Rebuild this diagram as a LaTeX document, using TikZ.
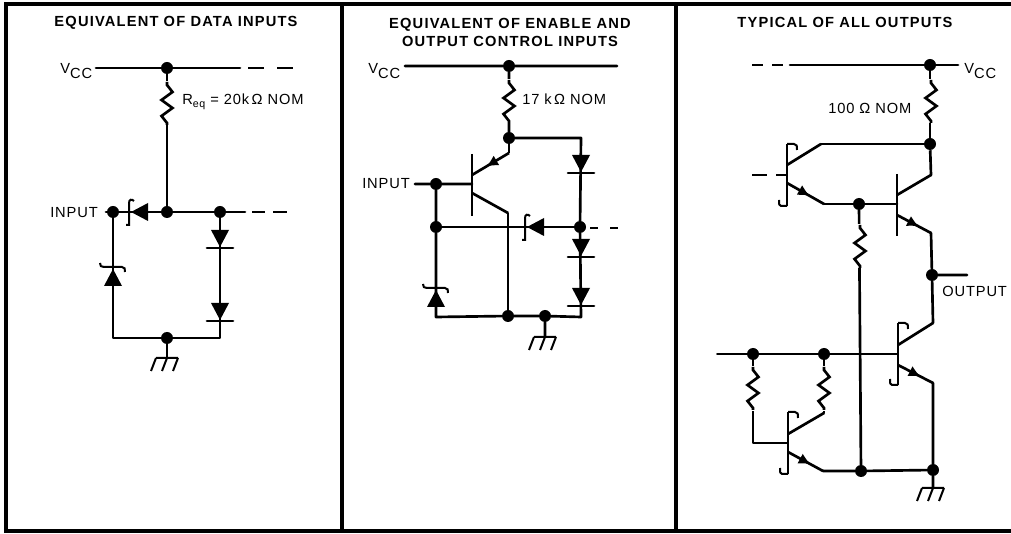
\documentclass[tikz,border=0pt]{standalone}
\usepackage{fontspec}
\setmainfont{Liberation Sans}
\newfontfamily\titlefont[LetterSpace=8,BoldFont={Liberation Sans Bold}]{Liberation Sans}
\newfontfamily\labfont[LetterSpace=6]{Liberation Sans}
\usetikzlibrary{arrows.meta,decorations.markings}
\newcommand{\VCC}{V\raisebox{-3.5pt}{CC}}
\tikzset{
  wire/.style={line width=2pt,line cap=round,line join=round},
  fine wire/.style={line width=1.4pt,line cap=round,line join=round},
  frameline/.style={line width=3pt,line cap=rect},
  dot/.style={circle,fill=black,inner sep=0pt,minimum size=9pt},
  title/.style={font=\titlefont\bfseries\fontsize{11pt}{13.5pt}\selectfont,align=center,inner sep=0pt},
  lab/.style={font=\labfont\fontsize{11pt}{12pt}\selectfont,inner sep=0pt},
  dashwire/.style={line width=1.8pt,line cap=butt},
  emit/.style={postaction={decorate},decoration={markings,mark=at position #1 with {\arrow{Latex[length=9pt,width=8.5pt]}}}},
  diodedown/.pic={\fill (-9,0)--(9,0)--(0,17)--cycle;\draw[wire] (-13,18)--(13,18);},
  shottkyup/.pic={\fill (-9,17)--(9,17)--(0,0)--cycle;
     \draw[line width=1.5pt] (-13,-6) .. controls (-13,-3) and (-12,-2) .. (-9,-2) -- (9,-2) .. controls (12,-2) and (12,0) .. (12,3);},
  shottkyleft/.pic={\fill (19,-9)--(19,9)--(2,0)--cycle;
     \draw[line width=1.5pt] (5,-11) .. controls (3,-13) and (0,-13) .. (0,-9) -- (0,11) -- (0,13) -- (-3,13);},
  resistorv/.pic={\draw[wire,line join=miter,line cap=butt] (0,0)--(0,3)--(5.5,10)--(-5.5,18)--(5.5,26)--(-5.5,34)--(0,41)--(0,43);},
  groundsym/.pic={\draw[line width=1.5pt] (-11,0)--(11,0) (-11,0)--(-16,13) (0,0)--(-5,13) (11,0)--(6,13);},
  hookbar/.pic={\draw[wire,line cap=butt] (0,0)--(0,62);
     \draw[line width=1.5pt] (0,0)--(7,0) .. controls (10,0) and (10,2) .. (10,6) (0,62)--(-6,62) .. controls (-8,62) and (-8,60) .. (-8,56);},
  plainbar/.pic={\draw[wire,line cap=butt] (0,0)--(0,62);}
}
\begin{document}
\begin{tikzpicture}[x=0.75pt,y=-0.75pt]
\useasboundingbox (0,0) rectangle (1011,534);
% frame
\coordinate (ftl) at (6,4); \coordinate (ftr) at (1011,4);
\coordinate (fbl) at (6,531); \coordinate (fbr) at (1011,531);
\coordinate (d1t) at (342,4); \coordinate (d1b) at (342,531);
\coordinate (d2t) at (676,4); \coordinate (d2b) at (676,531);
\draw[frameline] (fbl)--(ftl)--(ftr) (fbl)--(fbr) (d1t)--(d1b) (d2t)--(d2b);

% ---- panel 1
\node[title] (t1) at (176,23) {EQUIVALENT OF DATA INPUTS};
\node[lab,anchor=west] (vcc1) at (60,71) {\VCC};
\node[dot] (a1) at (167,68) {};
\coordinate (a1r) at (240,68); \coordinate (a1d) at (248,68); \coordinate (a1e) at (295,68);
\coordinate (a1l) at (96,68);
\draw[wire] (a1l)--(a1)--(a1r);
\draw[dashwire,dash pattern=on 12pt off 10pt] (a1d)--(a1e);
\node[lab,anchor=west] (req) at (182,102) {R\raisebox{-2.5pt}{\fontsize{8pt}{8pt}\selectfont eq} = 20k$\,$Ω NOM};
\node[dot] (b1) at (167,212) {};
\node[dot] (c1) at (113,212) {};
\node[dot] (e1) at (220,212) {};
\node[lab,anchor=west] (inp1) at (50,213) {INPUT};
\coordinate (c1l) at (106,212);
\coordinate (e1r) at (245,212); \coordinate (e1d) at (252,212); \coordinate (e1e) at (292,212);
\node[dot] (g1) at (167,338) {};
\coordinate (bl1) at (113,338); \coordinate (br1) at (220,338);
\coordinate (gg1) at (167,358);
\draw[wire] (a1)--(b1) (c1l)--(c1)--(b1)--(e1)--(e1r) (c1)--(bl1)--(g1)--(br1)--(e1) (g1)--(gg1);
\draw[dashwire,dash pattern=on 10pt off 6pt] (e1d)--(e1e);
\fill[white] (160,81) rectangle (174,125);
\pic at (167,82) {resistorv};
\pic at (220,230) {diodedown};
\pic at (220,303) {diodedown};
\pic at (113,269) {shottkyup};
\pic at (129,212) {shottkyleft};
\pic at (167,358) {groundsym};

% ---- panel 2
\node[title] (t2) at (510,32) {EQUIVALENT OF ENABLE AND\\OUTPUT CONTROL INPUTS};
\node[lab,anchor=west] (vcc2) at (368,71) {\VCC};
\node[lab,anchor=west] (r2) at (522,99) {17 k$\,$Ω NOM};
\node[dot] (a2) at (509,66) {};
\coordinate (a2l) at (405,66); \coordinate (a2r) at (617,66);
\node[dot] (b2) at (509,138) {};
\coordinate (b2r) at (581,138);
\node[dot] (c2) at (580,227) {};
\coordinate (c2d) at (590,228); \coordinate (c2e) at (619,228);
\coordinate (br2) at (581,317);
\node[dot] (m2) at (508,316) {};
\node[dot] (g2) at (545,316) {};
\coordinate (bl2) at (436,317);
\coordinate (gg2) at (545,337);
\node[dot] (in2) at (436,184) {};
\node[dot] (j2) at (436,227) {};
\node[lab,anchor=west] (inp2) at (362,184) {INPUT};
\coordinate (in2l) at (415,184);
\coordinate (tb2) at (472,184);
\coordinate (te2) at (472,175); \coordinate (te2k) at (509,153);
\coordinate (tc2) at (472,193); \coordinate (tc2k) at (508,213);
\draw[wire] (a2l)--(a2)--(a2r) (a2)--(b2)--(b2r)--(c2)--(br2)--(g2)--(m2)--(bl2)--(j2)--(in2)
  (in2l)--(in2)--(tb2) (g2)--(gg2);
\draw[fine wire] (c2)--(j2);
\draw[wire,line cap=butt] (b2)--(te2k);
\draw[wire,line cap=butt,emit=0.62] (te2k)--(te2);
\draw[wire,line cap=butt] (tc2)--(tc2k);
\draw[fine wire] (tc2k)--(m2);
\draw[dashwire,dash pattern=on 6pt off 9pt] (c2d)--(c2e);
\fill[white] (502,79) rectangle (516,123);
\pic at (509,80) {resistorv};
\pic at (472,154) {plainbar};
\pic at (581,155) {diodedown};
\pic at (581,239) {diodedown};
\pic at (581,288) {diodedown};
\pic at (436,290) {shottkyup};
\pic at (525,227) {shottkyleft};
\pic at (545,337) {groundsym};

% ---- panel 3
\node[title] (t3) at (845,22) {TYPICAL OF ALL OUTPUTS};
\node[lab,anchor=west] (vcc3) at (964,71) {\VCC};
\node[lab,anchor=west] (r3) at (828,108) {100 Ω NOM};
\node[dot] (a3) at (930,65) {};
\coordinate (a3l) at (790,65); \coordinate (a3r) at (958,65);
\coordinate (a3d) at (752,65); \coordinate (a3e) at (784,65);
\node[dot] (b3) at (930,144) {};
\coordinate (q1c) at (787,165); \coordinate (q1k) at (821,144);
\coordinate (q1e) at (787,183); \coordinate (q1m) at (824,204);
\node[dot] (s3) at (859,204) {};
\coordinate (q2b) at (897,204);
\coordinate (q1b) at (787,175); \coordinate (q1bd) at (752,175);
\coordinate (q2c) at (897,195); \coordinate (q2k) at (931,175);
\coordinate (q2e) at (897,215); \coordinate (q2m) at (931,233);
\node[dot] (o3) at (932,275) {};
\coordinate (o3r) at (967,275);
\node[lab,anchor=west] (out) at (942,291) {OUTPUT};
\coordinate (q3k) at (933,323); \coordinate (q3c) at (898,345);
\coordinate (q3e) at (898,365); \coordinate (q3m) at (933,383);
\node[dot] (g3) at (933,470) {};
\coordinate (gg3) at (933,488);
\node[dot] (n3) at (861,471) {};
\coordinate (q4m) at (823,471); \coordinate (q4e) at (788,452);
\coordinate (q4c) at (788,434); \coordinate (q4k) at (824,413);
\coordinate (in3) at (717,354); \coordinate (q3b) at (898,354);
\node[dot] (p3) at (753,354) {};
\node[dot] (q3) at (824,354) {};
\coordinate (lk) at (753,443); \coordinate (q4b) at (788,443);
\draw[wire] (a3l)--(a3)--(a3r) (a3)--(b3) (b3)--(q1k);
\draw[dashwire,dash pattern=on 8pt off 7pt] (a3d)--(a3e);
\draw[wire,line cap=butt] (q1k)--(q1c);
\draw[wire,line cap=butt,emit=0.62] (q1e)--(q1m);
\draw[wire] (q1m)--(s3)--(q2b);
\draw[dashwire,dash pattern=on 11pt off 7pt] (q1bd)--(q1b);
\draw[wire,line cap=butt] (q2c)--(q2k)--(b3);
\draw[wire,line cap=butt,emit=0.65] (q2e)--(q2m);
\draw[wire] (q2m)--(o3)--(q3k) (o3)--(o3r);
\draw[wire,line cap=butt] (q3k)--(q3c);
\draw[wire,line cap=butt,emit=0.65] (q3e)--(q3m);
\draw[wire] (q3m)--(g3)--(gg3) (g3)--(n3)--(q4m);
\draw[wire,line cap=butt,emit=0.65] (q4e)--(q4m);
\draw[wire] (s3)--(n3);
\draw[fine wire] (in3)--(p3)--(q3)--(q3b);
\draw[fine wire] (p3)--(lk)--(q4b);
\draw[wire] (q3)--(q4k);
\draw[wire,line cap=butt] (q4k)--(q4c);
\fill[white] (924,79) rectangle (938,123);
\fill[white] (853,224) rectangle (867,268);
\fill[white] (746,366) rectangle (760,411);
\fill[white] (817,366) rectangle (831,411);
\pic at (931,80) {resistorv};
\pic at (860,225) {resistorv};
\pic at (753,367) {resistorv};
\pic at (824,367) {resistorv};
\pic at (787,144) {hookbar};
\pic at (897,174) {plainbar};
\pic at (898,323) {hookbar};
\pic at (788,412) {hookbar};
\pic at (933,488) {groundsym};
\end{tikzpicture}
\end{document}
